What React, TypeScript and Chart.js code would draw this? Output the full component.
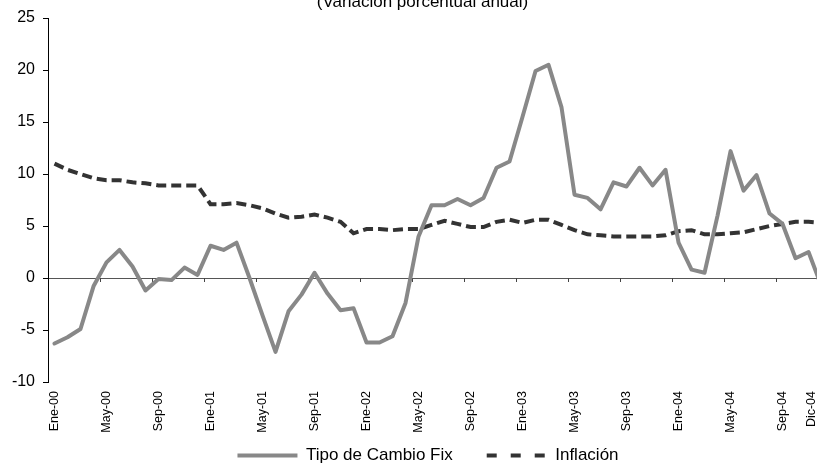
import React, { useEffect, useRef } from 'react';
import { Chart, registerables } from 'chart.js';

Chart.register(...registerables);

// ---- Data ----
const months: string[] = [
  'Ene-00', 'Feb-00', 'Mar-00', 'Abr-00', 'May-00', 'Jun-00', 'Jul-00', 'Ago-00', 'Sep-00', 'Oct-00', 'Nov-00', 'Dic-00',
  'Ene-01', 'Feb-01', 'Mar-01', 'Abr-01', 'May-01', 'Jun-01', 'Jul-01', 'Ago-01', 'Sep-01', 'Oct-01', 'Nov-01', 'Dic-01',
  'Ene-02', 'Feb-02', 'Mar-02', 'Abr-02', 'May-02', 'Jun-02', 'Jul-02', 'Ago-02', 'Sep-02', 'Oct-02', 'Nov-02', 'Dic-02',
  'Ene-03', 'Feb-03', 'Mar-03', 'Abr-03', 'May-03', 'Jun-03', 'Jul-03', 'Ago-03', 'Sep-03', 'Oct-03', 'Nov-03', 'Dic-03',
  'Ene-04', 'Feb-04', 'Mar-04', 'Abr-04', 'May-04', 'Jun-04', 'Jul-04', 'Ago-04', 'Sep-04', 'Oct-04', 'Nov-04', 'Dic-04',
];

const tipoCambioFix: number[] = [
  -6.3, -5.7, -4.9, -0.8, 1.5, 2.7, 1.1, -1.2, -0.1, -0.2, 1.0, 0.3,
  3.1, 2.7, 3.4, 0.0, -3.6, -7.1, -3.2, -1.6, 0.5, -1.5, -3.1, -2.9,
  -6.2, -6.2, -5.6, -2.4, 4.0, 7.0, 7.0, 7.6, 7.0, 7.7, 10.6, 11.2,
  15.5, 19.9, 20.5, 16.4, 8.0, 7.7, 6.6, 9.2, 8.8, 10.6, 8.9, 10.4,
  3.4, 0.8, 0.5, 6.0, 12.2, 8.4, 9.9, 6.2, 5.2, 1.9, 2.5, -0.8,
];

const inflacion: number[] = [
  11.0, 10.4, 10.0, 9.6, 9.4, 9.4, 9.2, 9.1, 8.9, 8.9, 8.9, 8.9,
  7.1, 7.1, 7.2, 7.0, 6.7, 6.2, 5.8, 5.9, 6.1, 5.8, 5.4, 4.3,
  4.7, 4.7, 4.6, 4.7, 4.7, 5.1, 5.5, 5.2, 4.9, 4.9, 5.4, 5.6,
  5.3, 5.6, 5.6, 5.1, 4.6, 4.2, 4.1, 4.0, 4.0, 4.0, 4.0, 4.1,
  4.5, 4.6, 4.2, 4.2, 4.3, 4.4, 4.7, 5.0, 5.2, 5.4, 5.4, 5.3,
];

const tickLabels: string[] = [
  'Ene-00', 'May-00', 'Sep-00', 'Ene-01', 'May-01', 'Sep-01', 'Ene-02', 'May-02',
  'Sep-02', 'Ene-03', 'May-03', 'Sep-03', 'Ene-04', 'May-04', 'Sep-04', 'Dic-04',
];

const seriesNames: string[] = ['Tipo de Cambio Fix', 'Inflación'];
const subtitle = '(Variación porcentual anual)';

const Y_MIN = -10;
const Y_MAX = 25;
const Y_STEP = 5;
const TICK_EVERY = 4;
const X_VIEW_MIN = -0.5;
const X_VIEW_MAX = 58.65;

const FONT = "'Liberation Sans', Arial, Helvetica, sans-serif";

const subtitlePlugin = {
  id: 'subtitleText',
  afterDraw(chart: any) {
    const ctx = chart.ctx;
    ctx.save();
    ctx.font = `17px ${FONT}`;
    ctx.fillStyle = '#000';
    ctx.textAlign = 'center';
    ctx.textBaseline = 'alphabetic';
    ctx.fillText(subtitle, chart.width / 2 + 14, 6.5);
    ctx.restore();
  },
};

// let the rotated x labels draw below the (compact) x-axis box, and nudge legend
const layoutTweaks = {
  id: 'layoutTweaks',
  afterLayout(chart: any) {
    if (chart.scales.x) chart.scales.x.bottom = chart.height;
    if (chart.legend) chart.legend.left -= 9;
  },
};

const xTickMarksPlugin = {
  id: 'xTickMarks',
  beforeDatasetsDraw(chart: any) {
    const { ctx, scales } = chart;
    const x = scales.x;
    const y = scales.y;
    const y0 = y.getPixelForValue(0);
    ctx.save();
    ctx.strokeStyle = '#444';
    ctx.lineWidth = 1;
    for (let k = 1; ; k++) {
      const b = k * TICK_EVERY - 0.5;
      if (b > x.max) break;
      const px = Math.round(x.getPixelForValue(b)) + 0.5;
      ctx.beginPath();
      ctx.moveTo(px, y0);
      ctx.lineTo(px, y0 + 4);
      ctx.stroke();
    }
    ctx.restore();
  },
};

export default function App() {
  const canvasRef = useRef<HTMLCanvasElement | null>(null);

  useEffect(() => {
    if (!canvasRef.current) return;
    const chart = new Chart(canvasRef.current, {
      type: 'line',
      data: {
        datasets: [
          {
            label: seriesNames[0],
            data: tipoCambioFix.map((v, i) => ({ x: i, y: v })),
            borderColor: '#888888',
            backgroundColor: '#888888',
            borderWidth: 4,
            borderCapStyle: 'round',
            borderJoinStyle: 'round',
            pointRadius: 0,
            tension: 0,
            fill: false,
          },
          {
            label: seriesNames[1],
            data: inflacion.map((v, i) => ({ x: i, y: v })),
            borderColor: '#333333',
            backgroundColor: '#333333',
            borderWidth: 4,
            borderDash: [10, 5],
            borderCapStyle: 'butt',
            pointRadius: 0,
            tension: 0,
            fill: false,
          },
        ],
      },
      options: {
        animation: false,
        responsive: false,
        maintainAspectRatio: false,
        layout: { padding: { top: 18, left: 0, right: 0, bottom: 0 } },
        plugins: {
          title: { display: false },
          tooltip: { enabled: false },
          legend: {
            position: 'bottom',
            fullSize: false,
            maxHeight: 52,
            labels: {
              usePointStyle: true,
              pointStyle: 'line',
              pointStyleWidth: 60,
              padding: 34,
              color: '#000',
              font: { family: FONT, size: 17 },
              generateLabels: (ch: any) => {
                const items = (Chart as any).defaults.plugins.legend.labels.generateLabels(ch);
                items.forEach((it: any, i: number) => {
                  if (i === 1) it.lineDash = [10, 14];
                });
                return items;
              },
            },
          },
        },
        scales: {
          x: {
            type: 'linear',
            min: X_VIEW_MIN,
            max: X_VIEW_MAX,
            grid: { display: false, drawTicks: false },
            border: { display: false },
            afterBuildTicks: (scale: any) => {
              scale.ticks = tickLabels.map((lbl) => {
                const idx = months.indexOf(lbl);
                return { value: Math.min(idx, scale.max - 0.45) };
              });
            },
            afterFit: (scale: any) => {
              scale.height = 31;
              scale.paddingLeft = 0;
              scale.paddingRight = 0;
            },
            ticks: {
              autoSkip: false,
              minRotation: 90,
              maxRotation: 90,
              padding: 9,
              color: '#000',
              font: { family: FONT, size: 12.5 },
              callback: (_v: any, index: number) => tickLabels[index],
            },
          },
          y: {
            min: Y_MIN,
            max: Y_MAX,
            afterFit: (scale: any) => {
              scale.width = 48;
            },
            ticks: {
              stepSize: Y_STEP,
              padding: 8,
              color: '#000',
              font: { family: FONT, size: 16 },
            },
            grid: {
              color: (c: any) => (c.tick && c.tick.value === 0 ? '#555555' : 'rgba(0,0,0,0)'),
              tickColor: '#000',
              tickLength: 5,
              lineWidth: 1,
            },
            border: { display: true, color: '#000', width: 1 },
          },
        },
      },
      plugins: [subtitlePlugin, xTickMarksPlugin, layoutTweaks],
    } as any);
    return () => chart.destroy();
  }, []);

  return (
    <div style={{ position: 'absolute', left: 0, top: 0, width: 817, height: 465, background: '#fff' }}>
      <canvas ref={canvasRef} width={817} height={465} style={{ width: 817, height: 465, display: 'block' }} />
    </div>
  );
}
